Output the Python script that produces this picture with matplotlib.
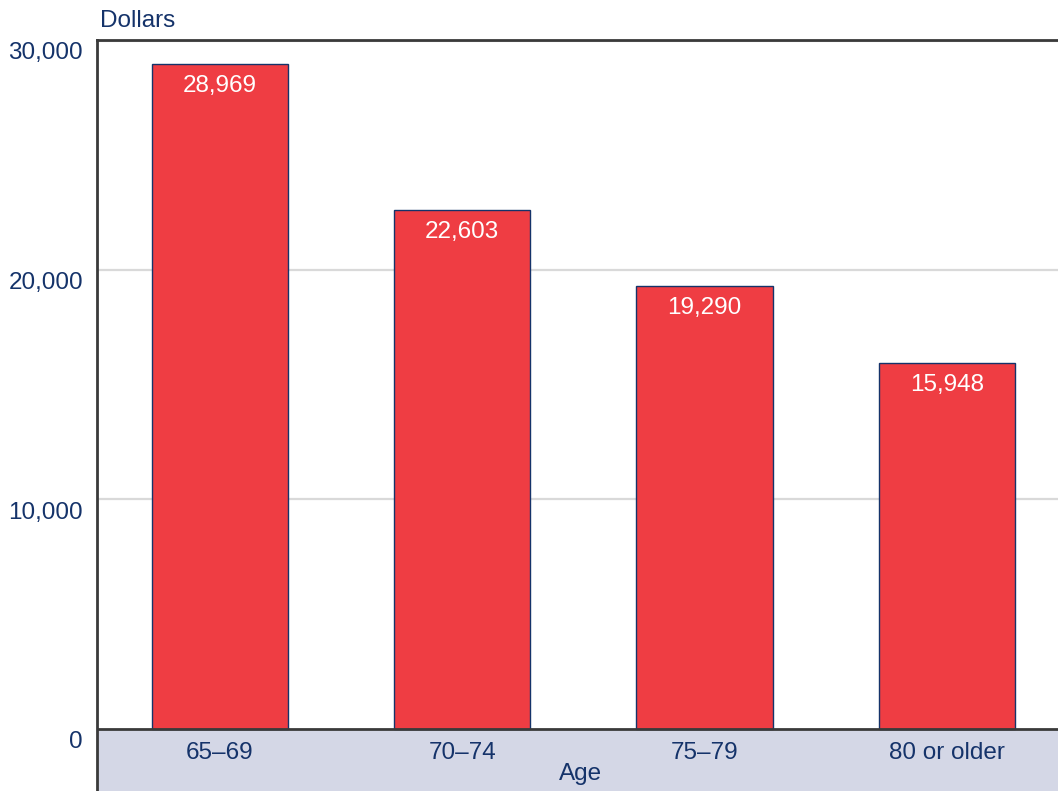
import matplotlib
matplotlib.use("Agg")
import matplotlib.pyplot as plt
from matplotlib.transforms import ScaledTranslation, blended_transform_factory

plt.rcParams['font.family'] = ['Liberation Sans', 'DejaVu Sans']

categories = ["65\u201369", "70\u201374", "75\u201379", "80 or older"]
values = [28969, 22603, 19290, 15948]
value_labels = ["28,969", "22,603", "19,290", "15,948"]
yticks = [0, 10000, 20000, 30000]
ytick_labels = ["0", "10,000", "20,000", "30,000"]

navy = "#15336a"
bar_color = "#ef3d43"
band_color = "#d4d7e6"
FS = 17.5

W, H = 1058, 791
fig = plt.figure(figsize=(W / 100, H / 100), dpi=100)
left, right, top, bottom = 97, 1058, 40, 791
ax = fig.add_axes([left / W, 1 - bottom / H, (right - left) / W, (bottom - top) / H])

ymin = -2700
ax.set_ylim(ymin, 30000)
ax.set_xlim(-0.508, 3.459)

ax.axhspan(ymin, 0, color=band_color, zorder=0, lw=0)
for yv in [10000, 20000]:
    ax.axhline(yv, color="#d9d9d9", lw=1.6, zorder=1)
ax.axhline(30000, color="#d0d0d0", lw=3, zorder=1)

x = list(range(len(categories)))
ax.bar(x, values, width=0.562, color=bar_color, edgecolor=navy, linewidth=1.0, zorder=3)
for xi, v, lab in zip(x, values, value_labels):
    ax.annotate(lab, (xi, v), xytext=(0, -8), textcoords="offset points",
                ha="center", va="top", color="white", fontsize=FS, zorder=4)

ax.axhline(0, color="#3a3a3a", lw=2, zorder=5)

for s in ["right", "bottom"]:
    ax.spines[s].set_visible(False)
ax.spines["left"].set_color("#3a3a3a")
ax.spines["left"].set_linewidth(2)
ax.spines["top"].set_color("#3a3a3a")
ax.spines["top"].set_linewidth(2)

ax.set_xticks([])
ax.set_yticks(yticks)
ax.set_yticklabels(ytick_labels, fontsize=FS, color=navy)
ax.tick_params(axis="y", length=0, pad=10)
for lbl in ax.get_yticklabels():
    lbl.set_transform(lbl.get_transform() + ScaledTranslation(0, -11 / 100, fig.dpi_scale_trans))

for xi, c in zip(x, categories):
    ax.text(xi, -1050, c, ha="center", va="center", color=navy, fontsize=FS)

trans = blended_transform_factory(ax.transAxes, ax.transData)
ax.text((581 - left) / (right - left), -1950, "Age", transform=trans,
        ha="center", va="center", color=navy, fontsize=FS)

fig.text(100 / W, 1 - 21 / H, "Dollars", ha="left", va="center", color=navy, fontsize=FS)

fig.savefig("out.png", dpi=100)
